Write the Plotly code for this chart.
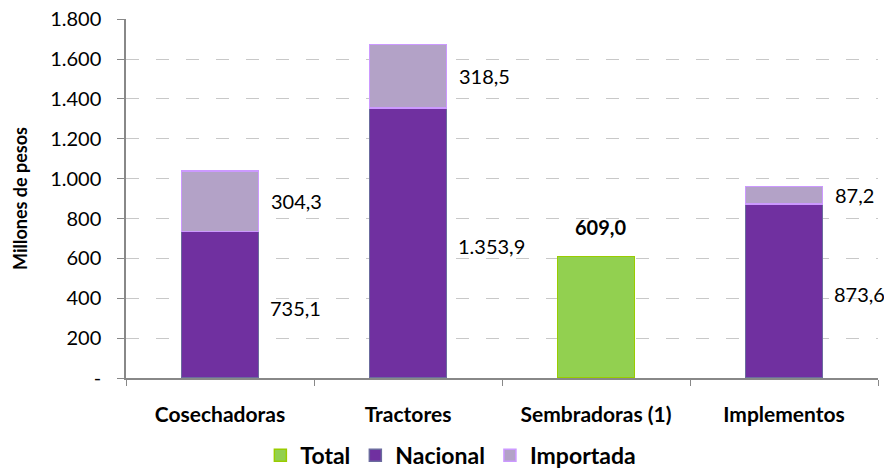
import plotly.graph_objects as go

categories = ["Cosechadoras", "Tractores", "Sembradoras (1)", "Implementos"]
nacional = [735.1, 1353.9, None, 873.6]
importada = [304.3, 318.5, None, 87.2]
total = [None, None, 609.0, None]
y_ticks = [0, 200, 400, 600, 800, 1000, 1200, 1400, 1600, 1800]
y_ticktext = ["-", "200", "400", "600", "800", "1.000", "1.200", "1.400", "1.600", "1.800"]


def fmt(v):
    s = f"{v:,.1f}"
    return s.replace(",", "X").replace(".", ",").replace("X", ".")


FONT = "Lato, 'Open Sans', sans-serif"
BW = 0.41

fig = go.Figure()
fig.add_trace(go.Bar(name="Total", x=categories, y=total, width=BW,
                     marker=dict(color="#92D050", line=dict(color="#99CC00", width=1.5))))
fig.add_trace(go.Bar(name="Nacional", x=categories, y=nacional, width=BW,
                     marker=dict(color="#7030A0", line=dict(color="#6B6B9E", width=1.5))))
fig.add_trace(go.Bar(name="Importada", x=categories, y=importada, width=BW,
                     marker=dict(color="#B3A2C7", line=dict(color="#CC99FF", width=1.5))))

LBL = dict(size=20, color="#000000", family=FONT)
annotations = []
for c, n, i in zip(categories, nacional, importada):
    if n is not None:
        annotations.append(dict(x=c, y=n / 2, text=fmt(n), xref="x", yref="y",
                                xanchor="left", yanchor="middle", xshift=48, yshift=-3,
                                showarrow=False, font=LBL))
    if i is not None:
        annotations.append(dict(x=c, y=n + i / 2, text=fmt(i), xref="x", yref="y",
                                xanchor="left", yanchor="middle", xshift=49,
                                showarrow=False, font=LBL))
for c, t in zip(categories, total):
    if t is not None:
        annotations.append(dict(x=c, y=t, text="<b>" + fmt(t) + "</b>", xref="x", yref="y",
                                xanchor="center", yanchor="bottom", yshift=16, xshift=4,
                                showarrow=False, font=LBL))

fig.update_layout(
    barmode="stack",
    width=884, height=470, autosize=False,
    margin=dict(l=126, r=6, t=19, b=92, autoexpand=False),
    paper_bgcolor="white", plot_bgcolor="white",
    font=dict(family=FONT, color="#000000"),
    showlegend=True,
    legend=dict(orientation="h", x=0.432, xanchor="center", y=-0.215, yanchor="middle",
                font=dict(size=23, family=FONT, weight="bold"), traceorder="normal",
                itemwidth=30),
    annotations=annotations,
    xaxis=dict(
        automargin=False,
        range=[-0.5, len(categories) - 0.5],
        showline=True, linecolor="#888888", linewidth=1.5,
        ticks="outside", tickson="boundaries", ticklen=6, tickcolor="#888888",
        tickfont=dict(size=21, family=FONT, weight="bold"),
        ticklabelstandoff=17,
        showgrid=False,
    ),
    yaxis=dict(
        automargin=False,
        range=[0, 1801], tickvals=y_ticks, ticktext=y_ticktext,
        showline=True, linecolor="#888888", linewidth=1.5,
        ticks="outside", ticklen=7, tickcolor="#888888",
        tickfont=dict(size=20, family=FONT),
        ticklabelstandoff=12,
        showgrid=True, gridcolor="#C8C8C8", gridwidth=1, griddash="13px,17px",
        zeroline=False,
        title=dict(text="<b>Millones de pesos</b>", font=dict(size=18, family=FONT), standoff=18),
    ),
)

fig.write_html("out.html",
               config={"displayModeBar": False, "responsive": False},
               post_script="document.body.style.margin='0';document.body.style.overflow='hidden';")
